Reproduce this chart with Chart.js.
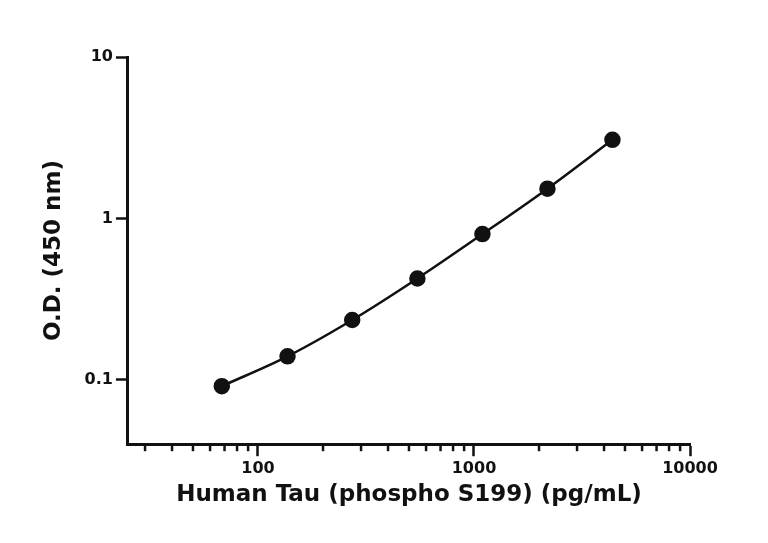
<!DOCTYPE html>
<html><head><meta charset="utf-8">
<script src="https://cdn.jsdelivr.net/npm/chart.js@4/dist/chart.umd.min.js"></script>
<style>html,body{margin:0;background:#fff}#w{width:768px;height:543px}</style>
</head><body><div id="w"><canvas id="c"></canvas></div>
<script>
const concentrations=[68,137,273,547,1094,2188,4375];
const od=[0.0915,0.140,0.235,0.425,0.80,1.53,3.07];
const xMajor=[100,1000,10000];
const yMajor=[0.1,1,10];
const xMinor=[30,40,50,60,70,80,90,200,300,400,500,600,700,800,900,2000,3000,4000,5000,6000,7000,8000,9000];
const F='"DejaVu Sans", sans-serif';
const minorPlugin={id:'minor',afterDraw(ch){
  const s=ch.scales.x,c=ch.ctx;c.save();c.strokeStyle='#111';c.lineWidth=2.5;
  xMinor.forEach(v=>{const p=s.getPixelForValue(v);c.beginPath();c.moveTo(p,s.top);c.lineTo(p,s.top+7);c.stroke();});
  c.restore();}};
new Chart(document.getElementById('c'),{type:'line',
 data:{datasets:[{data:concentrations.map((x,i)=>({x,y:od[i]})),borderColor:'#111',backgroundColor:'#111',
  borderWidth:2.5,pointRadius:7,pointHoverRadius:7,cubicInterpolationMode:'monotone',tension:0.4}]},
 options:{responsive:true,maintainAspectRatio:false,animation:false,
  layout:{padding:{top:57,right:78,left:36,bottom:30}},
  plugins:{legend:{display:false},tooltip:{enabled:false}},
  scales:{
   x:{type:'logarithmic',min:25,max:10000,
    afterBuildTicks:a=>{a.ticks=xMajor.map(v=>({value:v}));},
    grid:{drawOnChartArea:false,tickLength:12,tickWidth:2.5,tickColor:'#111'},
    border:{color:'#111',width:3},
    ticks:{color:'#111',font:{family:F,size:16,weight:'bold'},maxRotation:0,callback:v=>String(v)},
    title:{display:true,text:'Human Tau (phospho S199) (pg/mL)',color:'#111',font:{family:F,size:23,weight:'bold'},padding:{top:0}}},
   y:{type:'logarithmic',min:0.04,max:10,
    afterBuildTicks:a=>{a.ticks=yMajor.map(v=>({value:v}));},
    grid:{drawOnChartArea:false,tickLength:12,tickWidth:2.5,tickColor:'#111'},
    border:{color:'#111',width:3},
    ticks:{color:'#111',font:{family:F,size:16,weight:'bold'},callback:v=>String(v)},
    title:{display:true,text:'O.D. (450 nm)',color:'#111',font:{family:F,size:23,weight:'bold'},padding:{bottom:14}}}
  }},plugins:[minorPlugin]});
</script></body></html>
